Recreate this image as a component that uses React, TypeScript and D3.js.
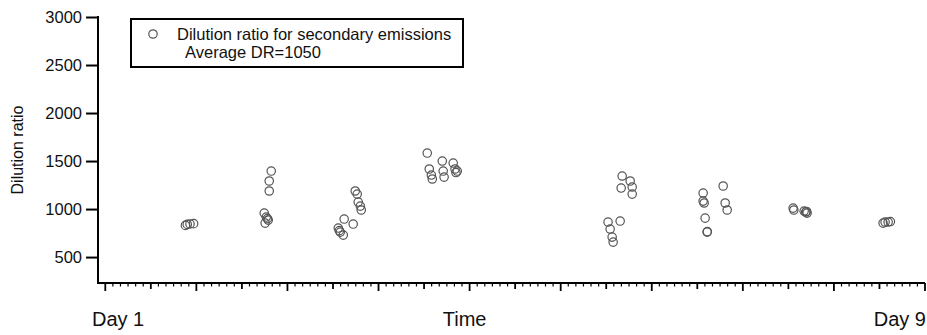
import React, { useRef, useEffect } from 'react';
import * as d3 from 'd3';

// sampling time, in days from the start of the campaign
const times = [
  1.88, 1.9, 1.93, 1.97,
  2.822, 2.8, 2.8, 2.745, 2.767, 2.789, 2.755, 2.78,
  3.744, 3.766, 3.777, 3.8, 3.81, 3.623, 3.722, 3.558, 3.58, 3.613, 3.57,
  4.535, 4.557, 4.58, 4.59, 4.7, 4.71, 4.72, 4.82, 4.84, 4.864, 4.85,
  6.52, 6.653, 6.543, 6.565, 6.576, 6.675, 6.763, 6.664, 6.785, 6.785,
  7.564, 7.564, 7.575, 7.586, 7.608, 7.61, 7.784, 7.806, 7.828,
  8.552, 8.56, 8.673, 8.69, 8.705, 8.7,
  9.54, 9.562, 9.595, 9.62,
];

// dilution ratio
const dilution = [
  830, 840, 845, 848,
  1396, 1292, 1188, 958, 917, 885, 854, 900,
  1188, 1156, 1073, 1031, 990, 896, 844, 802, 760, 729, 775,
  1583, 1417, 1354, 1313, 1500, 1396, 1333, 1479, 1417, 1396, 1380,
  865, 875, 792, 708, 656, 1344, 1292, 1219, 1229, 1156,
  1167, 1083, 1063, 906, 760, 765, 1240, 1063, 990,
  1010, 990, 979, 969, 958, 975,
  854, 865, 865, 870,
];

const yTicks = [500, 1000, 1500, 2000, 2500, 3000];
const xLabels = ['Day 1', 'Time', 'Day 9'];
const legendLines = ['Dilution ratio for secondary emissions', 'Average DR=1050'];

const W = 927, H = 335;
const font = 'Arial, "Liberation Sans", sans-serif';

const App = () => {
  const ref = useRef<SVGSVGElement>(null);

  useEffect(() => {
    const svg = d3.select(ref.current);
    svg.selectAll('*').remove();

    const x = d3.scaleLinear().domain([0.92, 10]).range([98, 925]);
    const y = d3.scaleLinear().domain([230, 3000]).range([283, 17]);

    // y axis
    const yAxis = d3.axisLeft(y).tickValues(yTicks).tickSize(12).tickPadding(4).tickFormat(d3.format('d'));
    const gy = svg.append('g').attr('transform', `translate(${x.range()[0]},0)`).call(yAxis);
    gy.select('.domain').attr('stroke', '#000').attr('stroke-width', 2).attr('d', `M0,${y(3000) - 1}V${y.range()[0]}`);
    gy.selectAll('.tick line').attr('stroke', '#000').attr('stroke-width', 2);
    gy.selectAll('.tick text').attr('font-family', font).attr('font-size', 16.5).attr('fill', '#111');

    // x axis: major ticks per day, medium every 12 h, minor every 2 h
    const gx = svg.append('g');
    gx.append('line')
      .attr('x1', x.range()[0] - 1).attr('x2', x.range()[1])
      .attr('y1', y.range()[0]).attr('y2', y.range()[0])
      .attr('stroke', '#000').attr('stroke-width', 2);
    const hours = d3.range(Math.ceil(x.domain()[0] * 12), Math.floor(x.domain()[1] * 12) + 1);
    gx.selectAll('line.tk')
      .data(hours)
      .join('line')
      .attr('class', 'tk')
      .attr('x1', d => x(d / 12)).attr('x2', d => x(d / 12))
      .attr('y1', y.range()[0])
      .attr('y2', d => y.range()[0] + (d % 12 === 0 ? 8 : d % 6 === 0 ? 6 : 3.5))
      .attr('stroke', '#000')
      .attr('stroke-width', d => (d % 6 === 0 ? 1.8 : 1.2));

    // x annotations
    const labelPos = [
      { x: x.range()[0] - 6, anchor: 'start' },
      { x: x(5) - 5, anchor: 'middle' },
      { x: x.range()[1] + 1, anchor: 'end' },
    ];
    svg.append('g').selectAll('text')
      .data(xLabels)
      .join('text')
      .attr('x', (d, i) => labelPos[i].x)
      .attr('y', 326)
      .attr('text-anchor', (d, i) => labelPos[i].anchor)
      .attr('font-family', font).attr('font-size', 20).attr('fill', '#111')
      .text(d => d);

    svg.append('text')
      .attr('transform', `translate(23,${(y(3000) + y.range()[0]) / 2}) rotate(-90)`)
      .attr('text-anchor', 'middle')
      .attr('font-family', font).attr('font-size', 16).attr('fill', '#111')
      .text('Dilution ratio');

    // points
    svg.append('g').selectAll('circle')
      .data(times.map((t, i) => ({ t, v: dilution[i] })))
      .join('circle')
      .attr('cx', d => x(d.t))
      .attr('cy', d => y(d.v))
      .attr('r', 4.2)
      .attr('fill', 'none')
      .attr('stroke', '#555')
      .attr('stroke-width', 1.2);

    // legend
    const lg = svg.append('g');
    lg.append('rect')
      .attr('x', 131).attr('y', 19).attr('width', 332).attr('height', 48)
      .attr('fill', '#fff').attr('stroke', '#000').attr('stroke-width', 2);
    lg.append('circle')
      .attr('cx', 153).attr('cy', 34).attr('r', 4.2)
      .attr('fill', 'none').attr('stroke', '#555').attr('stroke-width', 1.2);
    lg.selectAll('text.lt')
      .data(legendLines)
      .join('text')
      .attr('class', 'lt')
      .attr('x', (d, i) => (i === 0 ? 177 : 185))
      .attr('y', (d, i) => 40 + i * 18)
      .attr('font-family', font).attr('font-size', 16.5).attr('fill', '#111')
      .text(d => d);
  }, []);

  return (
    <svg ref={ref} width={W} height={H} style={{ position: 'absolute', left: 0, top: 0, background: '#fff' }} />
  );
};

export default App;
